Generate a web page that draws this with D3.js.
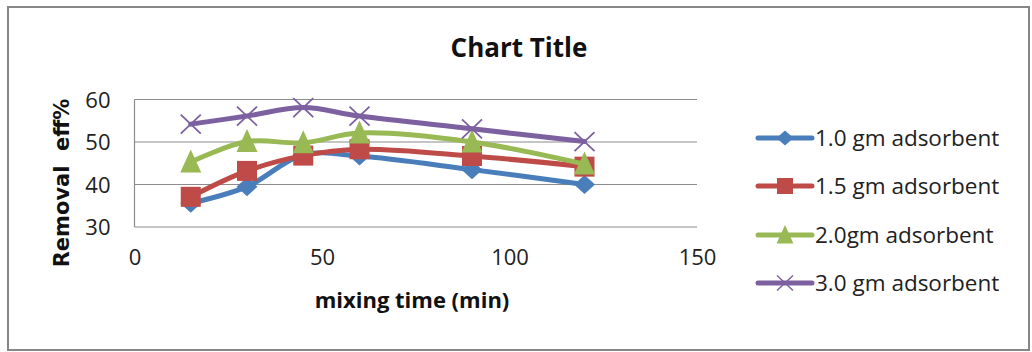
<!DOCTYPE html>
<html><head><meta charset="utf-8">
<script src="https://cdn.jsdelivr.net/npm/d3@7"></script>
<style>
html,body{margin:0;padding:0;background:#fff;}
svg{display:block;}
</style></head>
<body>
<script>
const times = [15, 30, 45, 60, 90, 120];
const seriesNames = ["1.0 gm adsorbent", "1.5 gm adsorbent", "2.0gm adsorbent", "3.0 gm adsorbent"];
const s10 = [35.6, 39.5, 47, 46.7, 43.5, 40];
const s15 = [37.1, 43.2, 46.8, 48.3, 46.7, 44.2];
const s20 = [45.3, 50.1, 49.8, 52.1, 50, 44.8];
const s30 = [54.2, 56.1, 58.1, 56.1, 53.1, 50.1];
const xTicks = [0, 50, 100, 150];
const yTicks = [30, 40, 50, 60];
const colors = ["#4a7ebb", "#be4b48", "#98b954", "#7d60a0"];
const markers = ["diamond", "square", "triangle", "x"];
const allSeries = [s10, s15, s20, s30];

const W = 1032, H = 352;
const FONT = "'Open Sans','Liberation Sans',sans-serif";
const svg = d3.select("body").append("svg").attr("width", W).attr("height", H);
svg.append("rect").attr("x", 8).attr("y", 7).attr("width", 1021).attr("height", 343)
  .attr("fill", "#fff").attr("stroke", "#868686").attr("stroke-width", 2);

const x = d3.scaleLinear().domain([0, 150]).range([134.5, 697]);
const y = d3.scaleLinear().domain([30, 60]).range([227, 99.5]);

svg.append("g").selectAll("line").data(yTicks).join("line")
  .attr("x1", x(0)).attr("x2", x(150)).attr("y1", d => y(d)).attr("y2", d => y(d))
  .attr("stroke", "#8c8c8c").attr("stroke-width", 1.2);
svg.append("line").attr("x1", x(0)).attr("x2", x(0)).attr("y1", y(60)).attr("y2", y(30))
  .attr("stroke", "#8c8c8c").attr("stroke-width", 1.2);

const yAxis = svg.append("g").attr("transform", `translate(${x(0)},0)`)
  .call(d3.axisLeft(y).tickValues(yTicks).tickSize(0).tickPadding(24));
yAxis.select(".domain").remove();
yAxis.selectAll("text").style("font-size", "22px").style("font-family", FONT).attr("fill", "#222").attr("dy", "0.36em");

const xAxis = svg.append("g").attr("transform", `translate(0,${y(30)})`)
  .call(d3.axisBottom(x).tickValues(xTicks).tickSize(0).tickPadding(22));
xAxis.select(".domain").remove();
xAxis.selectAll("text").style("font-size", "22px").style("font-family", FONT).attr("fill", "#222");

svg.append("text").attr("x", 519).attr("y", 57).attr("text-anchor", "middle")
  .style("font-family", FONT).style("font-size", "26px").style("font-weight", "bold").attr("fill", "#111").text("Chart Title");
svg.append("text").attr("x", 412).attr("y", 308).attr("text-anchor", "middle")
  .style("font-family", FONT).style("font-size", "22px").style("font-weight", "bold").attr("fill", "#111").text("mixing time (min)");
svg.append("text").attr("transform", "translate(69,183) rotate(-90)").attr("text-anchor", "middle")
  .style("font-family", "'DejaVu Sans',sans-serif")
  .style("font-size", "21px").style("font-weight", "bold").style("white-space", "pre").attr("fill", "#111").text("Removal  eff%");

function drawMarker(g, type, cx, cy, color) {
  if (type === "diamond") {
    g.append("path").attr("d", `M${cx},${cy-9.5}L${cx+10.5},${cy}L${cx},${cy+9.5}L${cx-10.5},${cy}Z`).attr("fill", color);
  } else if (type === "square") {
    g.append("rect").attr("x", cx-10).attr("y", cy-10).attr("width", 20).attr("height", 20).attr("fill", color);
  } else if (type === "triangle") {
    g.append("path").attr("d", `M${cx},${cy-12.5}L${cx+10.5},${cy+10.5}L${cx-10.5},${cy+10.5}Z`).attr("fill", color);
  } else {
    g.append("path").attr("d", `M${cx-10},${cy-9.5}L${cx+10},${cy+9.5}M${cx-10},${cy+9.5}L${cx+10},${cy-9.5}`)
      .attr("stroke", color).attr("stroke-width", 1.8).attr("fill", "none");
  }
}

const line = d3.line().x((d, i) => x(times[i])).y(d => y(d)).curve(d3.curveCatmullRom.alpha(0.5));
allSeries.forEach((s, k) => {
  const g = svg.append("g");
  g.append("path").datum(s).attr("d", line).attr("fill", "none")
    .attr("stroke", colors[k]).attr("stroke-width", 5).attr("stroke-linejoin", "round").attr("stroke-linecap", "round");
  s.forEach((v, i) => drawMarker(g, markers[k], x(times[i]), y(v), colors[k]));
});

const legY = [138, 186, 235, 283];
seriesNames.forEach((n, k) => {
  const g = svg.append("g");
  g.append("line").attr("x1", 758).attr("x2", 812).attr("y1", legY[k]).attr("y2", legY[k])
    .attr("stroke", colors[k]).attr("stroke-width", 5).attr("stroke-linecap", "round");
  const m = g.append("g").attr("transform", `translate(785,${legY[k]}) scale(0.8) translate(-785,${-legY[k]})`);
  drawMarker(m, markers[k], 785, legY[k], colors[k]);
  g.append("text").attr("x", 815).attr("y", legY[k]).attr("dy", "0.36em")
    .style("font-family", FONT).style("font-size", "22.5px").attr("fill", "#222").text(n);
});
</script>
</body></html>
